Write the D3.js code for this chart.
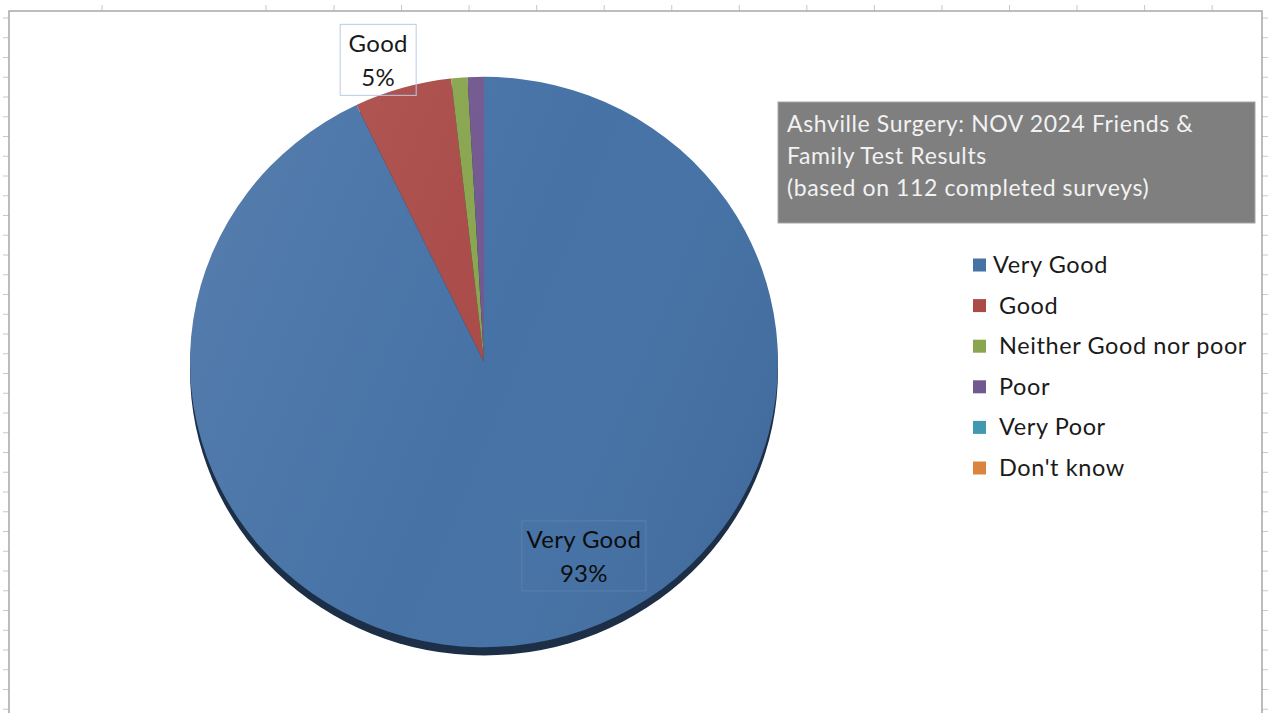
<!DOCTYPE html>
<html>
<head>
<meta charset="utf-8">
<script src="https://cdn.jsdelivr.net/npm/d3@7"></script>
<style>
  html, body { margin: 0; padding: 0; background: #fff; }
  svg { display: block; font-family: Lato, "Open Sans", sans-serif; }
</style>
</head>
<body>
<div id="chart"></div>
<script>
// survey results
const categories = ["Very Good", "Good", "Neither Good nor poor", "Poor", "Very Poor", "Don't know"];
const counts = [104, 6, 1, 1, 0, 0];
const colors = ["#4672a6", "#aa4b48", "#89a54e", "#71588f", "#4198af", "#db843d"];
const titleLines = ["Ashville Surgery: NOV 2024 Friends &", "Family Test Results", "(based on 112 completed surveys)"];
const labelled = ["Very Good", "Good"];

const width = 1268, height = 713;
const cx = 484, cy = 362, R = 294, sy = 0.97;

const svg = d3.select("#chart").append("svg")
    .attr("width", width).attr("height", height);

// sheet frame (column / row header ticks)
const colTicks = [102, 266].concat(d3.range(14).map(i => 334 + i * 67.55));
const rowTicks = d3.range(36).map(i => 18 + i * 19.75);
const frame = svg.append("g");
frame.selectAll(".ct").data(colTicks).enter().append("line")
    .attr("x1", d => d).attr("x2", d => d).attr("y1", 5).attr("y2", 11)
    .attr("stroke", "#c8c8c8").attr("stroke-width", 1);
frame.selectAll(".rt").data(rowTicks).enter().append("line")
    .attr("x1", 3).attr("x2", 9).attr("y1", d => d).attr("y2", d => d)
    .attr("stroke", "#c8c8c8").attr("stroke-width", 1);
frame.selectAll(".rr").data(rowTicks).enter().append("line")
    .attr("x1", 1262).attr("x2", 1268).attr("y1", d => d).attr("y2", d => d)
    .attr("stroke", "#c8c8c8").attr("stroke-width", 1);
frame.append("path")
    .attr("d", `M9,${height}V11H1262V${height}`)
    .attr("fill", "none").attr("stroke", "#a8a8a8").attr("stroke-width", 1.5);

// pie
const pie = d3.pie().sort(null).value(d => d.value);
const rows = categories.map((c, i) => ({ name: c, value: counts[i], color: colors[i] }));
const arcs = pie(rows);
const total = d3.sum(counts);
const arc = d3.arc().innerRadius(0).outerRadius(R);

const defs = svg.append("defs");
const grad = defs.append("linearGradient").attr("id", "shade")
    .attr("x1", "0%").attr("y1", "20%").attr("x2", "100%").attr("y2", "60%");
grad.append("stop").attr("offset", "0%").attr("stop-color", "#fff").attr("stop-opacity", 0.08);
grad.append("stop").attr("offset", "55%").attr("stop-color", "#fff").attr("stop-opacity", 0);
grad.append("stop").attr("offset", "100%").attr("stop-color", "#000").attr("stop-opacity", 0.05);

const g = svg.append("g").attr("transform", `translate(${cx},${cy}) scale(1,${sy})`);

// side of the 3d disc
g.append("ellipse")
    .attr("cx", 0).attr("cy", 8.5).attr("rx", R).attr("ry", R)
    .attr("fill", "#1d2f47");

g.selectAll(".slice").data(arcs.filter(d => d.value > 0)).enter().append("path")
    .attr("class", "slice")
    .attr("d", arc)
    .attr("fill", d => d.data.color);

g.append("circle").attr("r", R).attr("fill", "url(#shade)").style("pointer-events", "none");

// data labels
const labelSpots = { "Very Good": { k: 0.76, da: -0.239 }, "Good": { k: 1.119, da: -0.047 } };
const labelBox = { "Very Good": [124, 70], "Good": [76, 71] };
arcs.filter(d => labelled.includes(d.data.name)).forEach(d => {
    const s = labelSpots[d.data.name];
    const mid = (d.startAngle + d.endAngle) / 2 + s.da;
    const lx = cx + Math.sin(mid) * R * s.k;
    const ly = cy - Math.cos(mid) * R * s.k * sy;
    const [bw, bh] = labelBox[d.data.name];
    const inside = s.k < 1;
    svg.append("rect")
        .attr("x", lx - bw / 2).attr("y", ly - bh / 2)
        .attr("width", bw).attr("height", bh)
        .attr("fill", "none")
        .attr("stroke", inside ? "#5a80ad" : "#b8cce4")
        .attr("stroke-width", 1);
    const pct = Math.round(d.value / total * 100) + "%";
    [d.data.name, pct].forEach((t, j) => {
        svg.append("text")
            .attr("x", lx).attr("y", ly - 8 + j * 34)
            .attr("text-anchor", "middle")
            .attr("font-size", 24)
            .attr("letter-spacing", 0.3)
            .attr("fill", inside ? "#0d0d0d" : "#1a1a1a")
            .text(t);
    });
});

// title box
svg.append("rect")
    .attr("x", 778).attr("y", 102).attr("width", 477).attr("height", 121)
    .attr("fill", "#7f7f7f").attr("stroke", "#a6a6a6").attr("stroke-width", 1);
svg.selectAll(".title").data(titleLines).enter().append("text")
    .attr("x", 787).attr("y", (d, i) => 132 + i * 32)
    .attr("font-size", 23)
    .attr("letter-spacing", 0.6)
    .attr("fill", "#f2f2f2")
    .text(d => d);

// legend
const legend = svg.append("g");
const legendY = d3.scalePoint().domain(categories).range([265, 468]);
legend.selectAll("rect").data(rows).enter().append("rect")
    .attr("x", 973).attr("y", d => legendY(d.name) - 6.5)
    .attr("width", 13).attr("height", 13)
    .attr("fill", d => d.color);
legend.selectAll("text").data(rows).enter().append("text")
    .attr("x", (d, i) => i === 0 ? 993 : 999)
    .attr("y", d => legendY(d.name) + 8)
    .attr("font-size", 23.5)
    .attr("letter-spacing", 0.6)
    .attr("fill", "#1a1a1a")
    .text(d => d.name);
</script>
</body>
</html>
